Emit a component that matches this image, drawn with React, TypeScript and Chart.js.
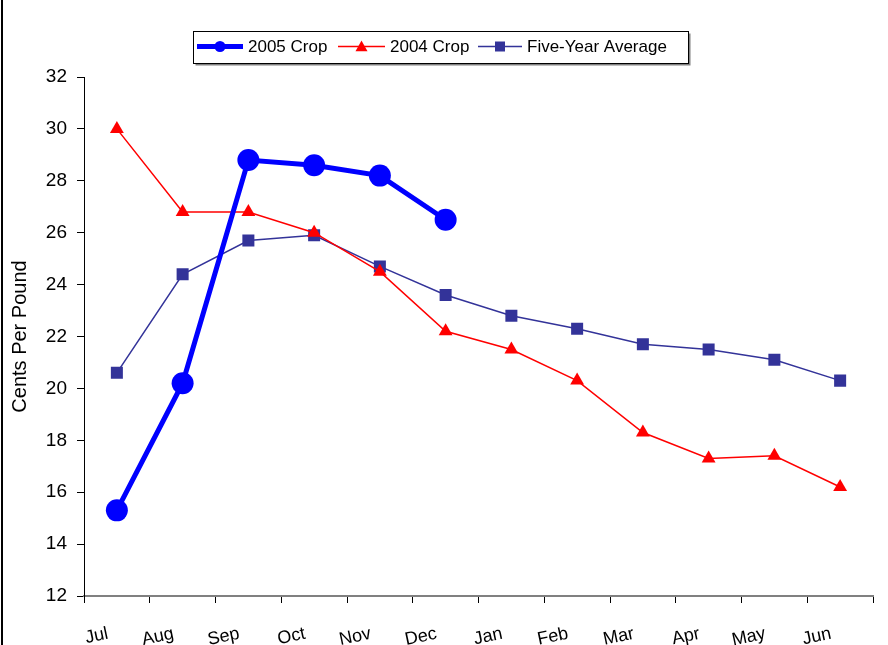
import React, { useEffect, useRef } from "react";
import { Chart, registerables } from "chart.js";

Chart.register(...registerables);

const months = ["Jul", "Aug", "Sep", "Oct", "Nov", "Dec", "Jan", "Feb", "Mar", "Apr", "May", "Jun"];
const crop2005 = [15.3, 20.2, 28.8, 28.6, 28.2, 26.5, null, null, null, null, null, null];
const crop2004 = [30.0, 26.8, 26.8, 26.0, 24.5, 22.2, 21.5, 20.3, 18.3, 17.3, 17.4, 16.2];
const fiveYearAvg = [20.6, 24.4, 25.7, 25.9, 24.7, 23.6, 22.8, 22.3, 21.7, 21.5, 21.1, 20.3];
const yTicks = [12, 14, 16, 18, 20, 22, 24, 26, 28, 30, 32];

const FONT = "'Liberation Sans', Arial, sans-serif";

const framePlugin = {
  id: "frameAndLegend",
  beforeDraw(chart: any) {
    const ctx = chart.ctx;
    ctx.save();
    ctx.fillStyle = "#ffffff";
    ctx.fillRect(0, 0, chart.width, chart.height);
    ctx.restore();
  },
  afterDraw(chart: any) {
    const ctx = chart.ctx;
    ctx.save();
    // left frame line
    ctx.strokeStyle = "#000000";
    ctx.lineWidth = 2;
    ctx.beginPath();
    ctx.moveTo(2, 0);
    ctx.lineTo(2, chart.height);
    ctx.stroke();

    // legend box
    const bx = 193.5, by = 31.5, bw = 495, bh = 32;
    ctx.fillStyle = "#808080";
    ctx.fillRect(bx + 2, by + 2, bw, bh);
    ctx.fillStyle = "#ffffff";
    ctx.fillRect(bx, by, bw, bh);
    ctx.strokeStyle = "#000000";
    ctx.lineWidth = 1;
    ctx.strokeRect(bx, by, bw, bh);

    const cy = 46.5;
    const items = [
      { x0: 197, x1: 243, tx: 248, label: "2005 Crop", color: "#0000ff", lw: 5, shape: "circle", r: 5.5 },
      { x0: 338, x1: 385, tx: 390, label: "2004 Crop", color: "#ff0000", lw: 1.5, shape: "triangle", r: 6 },
      { x0: 478, x1: 522, tx: 527, label: "Five-Year Average", color: "#333399", lw: 1.5, shape: "rect", r: 5 },
    ];
    items.forEach((it) => {
      ctx.strokeStyle = it.color;
      ctx.fillStyle = it.color;
      ctx.lineWidth = it.lw;
      ctx.beginPath();
      ctx.moveTo(it.x0, cy);
      ctx.lineTo(it.x1, cy);
      ctx.stroke();
      const mx = (it.x0 + it.x1) / 2;
      ctx.beginPath();
      if (it.shape === "circle") {
        ctx.arc(mx, cy, it.r, 0, Math.PI * 2);
      } else if (it.shape === "triangle") {
        ctx.moveTo(mx, cy - it.r);
        ctx.lineTo(mx + it.r, cy + it.r * 0.8);
        ctx.lineTo(mx - it.r, cy + it.r * 0.8);
        ctx.closePath();
      } else {
        ctx.rect(mx - it.r, cy - it.r, it.r * 2, it.r * 2);
      }
      ctx.fill();
      ctx.fillStyle = "#000000";
      ctx.font = `17px ${FONT}`;
      ctx.textBaseline = "middle";
      ctx.textAlign = "left";
      ctx.fillText(it.label, it.tx, cy + 1);
    });
    ctx.restore();
  },
};

export default function App() {
  const ref = useRef<HTMLCanvasElement | null>(null);

  useEffect(() => {
    document.body.style.margin = "0";
    const canvas = ref.current;
    if (!canvas) return;
    const chart = new Chart(canvas, {
      type: "line",
      data: {
        labels: months,
        datasets: [
          {
            label: "2005 Crop",
            data: crop2005,
            borderColor: "#0000ff",
            backgroundColor: "#0000ff",
            borderWidth: 5,
            pointStyle: "circle",
            pointRadius: 11,
            pointBorderWidth: 0,
            tension: 0,
            spanGaps: false,
          },
          {
            label: "2004 Crop",
            data: crop2004,
            borderColor: "#ff0000",
            backgroundColor: "#ff0000",
            borderWidth: 1.5,
            pointStyle: "triangle",
            pointRadius: 8,
            pointBorderWidth: 0,
            tension: 0,
          },
          {
            label: "Five-Year Average",
            data: fiveYearAvg,
            borderColor: "#333399",
            backgroundColor: "#333399",
            borderWidth: 1.5,
            pointStyle: "rect",
            pointRadius: 8.5,
            pointBorderWidth: 0,
            tension: 0,
          },
        ],
      },
      options: {
        animation: false,
        responsive: false,
        maintainAspectRatio: false,
        layout: { padding: { top: 77, right: 15, left: 0, bottom: 0 } },
        plugins: {
          legend: { display: false },
          tooltip: { enabled: false },
          title: { display: false },
        },
        scales: {
          x: {
            type: "category",
            offset: true,
            afterFit: (scale: any) => {
              scale.height = 49;
            },
            grid: {
              offset: true,
              drawOnChartArea: false,
              drawTicks: true,
              tickLength: 7,
              color: "#000000",
              lineWidth: 1,
            },
            border: { display: true, color: "#808080", width: 2 },
            ticks: {
              color: "#000000",
              font: { family: FONT, size: 18 },
              minRotation: 12,
              maxRotation: 12,
              autoSkip: false,
              padding: 20,
              labelOffset: -9,
            },
          },
          y: {
            min: 12,
            max: 32,
            afterFit: (scale: any) => {
              scale.width = 84;
            },
            afterBuildTicks: (scale: any) => {
              scale.ticks = yTicks.map((v) => ({ value: v }));
            },
            grid: {
              drawOnChartArea: false,
              drawTicks: true,
              tickLength: 7,
              color: "#000000",
              lineWidth: 1,
            },
            border: { display: true, color: "#000000", width: 1 },
            ticks: {
              color: "#000000",
              font: { family: FONT, size: 19 },
              padding: 10,
            },
            title: {
              display: true,
              text: "Cents Per Pound",
              color: "#000000",
              font: { family: FONT, size: 20 },
              padding: { top: 8, bottom: 0 },
            },
          },
        },
      },
      plugins: [framePlugin],
    });
    return () => chart.destroy();
  }, []);

  return (
    <div style={{ width: 888, height: 645, position: "relative", background: "#fff" }}>
      <canvas ref={ref} width={888} height={645} style={{ display: "block", width: 888, height: 645 }} />
    </div>
  );
}
